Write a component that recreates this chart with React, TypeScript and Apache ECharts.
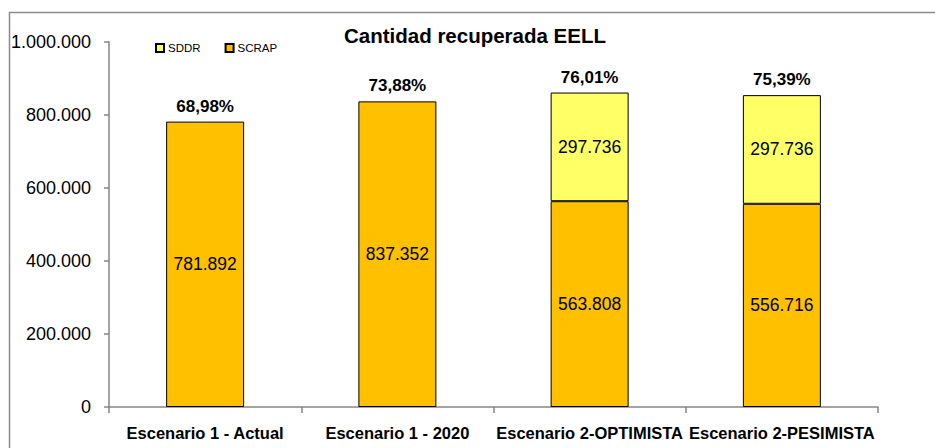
import React, { useEffect, useRef } from "react";
import * as echarts from "echarts";

const categories = ["Escenario 1 - Actual", "Escenario 1 - 2020", "Escenario 2-OPTIMISTA", "Escenario 2-PESIMISTA"];
const scrapValues = [781892, 837352, 563808, 556716];
const sddrValues: (number | null)[] = [null, null, 297736, 297736];
const pctLabels = ["68,98%", "73,88%", "76,01%", "75,39%"];
const yTicks = [0, 200000, 400000, 600000, 800000, 1000000];

const fmt = (v: number) => String(Math.round(v)).replace(/\B(?=(\d{3})+(?!\d))/g, ".");
const FONT = "'Liberation Sans', Arial, sans-serif";

export default function App() {
  const ref = useRef<HTMLDivElement>(null);
  useEffect(() => {
    if (!ref.current) return;
    const chart = echarts.init(ref.current, null, { renderer: "svg" });
    const totals = scrapValues.map((v, i) => v + (sddrValues[i] ?? 0));
    chart.setOption({
      animation: false,
      textStyle: { fontFamily: FONT },
      title: {
        text: "Cantidad recuperada EELL",
        left: 470,
        textAlign: "center",
        top: 20,
        textStyle: { fontFamily: FONT, fontSize: 20.5, fontWeight: "bold", color: "#000" },
      },
      legend: {
        data: ["SDDR", "SCRAP"],
        left: 150,
        top: 37,
        icon: "rect",
        itemWidth: 8,
        itemHeight: 8,
        itemGap: 24,
        textStyle: { fontFamily: FONT, fontSize: 11.5, color: "#000", padding: [0, 0, 0, -1] },
      },
      graphic: [
        {
          type: "rect",
          shape: { x: 9.5, y: 12.5, width: 1000, height: 1000 },
          style: { fill: "none", stroke: "#8c8c8c", lineWidth: 1.5 },
          silent: true,
        },
      ],
      grid: { left: 109, right: 57, top: 42, bottom: 41 },
      xAxis: {
        type: "category",
        data: categories,
        axisLine: { lineStyle: { color: "#868686", width: 1.5 } },
        axisTick: { show: true, length: 6, lineStyle: { color: "#868686", width: 1.5 } },
        axisLabel: { fontFamily: FONT, fontSize: 16.5, fontWeight: "bold", color: "#000", margin: 17, interval: 0 },
      },
      yAxis: {
        type: "value",
        min: 0,
        max: 1000000,
        interval: 200000,
        splitLine: { show: false },
        axisLine: { show: true, lineStyle: { color: "#868686", width: 1.5 } },
        axisTick: { show: true, length: 5, lineStyle: { color: "#868686", width: 1.5 } },
        axisLabel: {
          fontFamily: FONT,
          fontSize: 18,
          color: "#000",
          margin: 18,
          formatter: (v: number) => (yTicks.includes(v) ? fmt(v) : ""),
        },
      },
      series: [
        {
          name: "SCRAP",
          type: "bar",
          stack: "t",
          barWidth: 78,
          data: scrapValues,
          itemStyle: { color: "#FFC000", borderColor: "#000", borderWidth: 1 },
          label: {
            show: true,
            position: "inside",
            fontFamily: FONT,
            fontSize: 17.5,
            color: "#000",
            formatter: (p: any) => fmt(p.value),
          },
        },
        {
          name: "SDDR",
          type: "bar",
          stack: "t",
          barWidth: 78,
          data: sddrValues,
          itemStyle: { color: "#FFFF66", borderColor: "#000", borderWidth: 1 },
          label: {
            show: true,
            position: "inside",
            fontFamily: FONT,
            fontSize: 17.5,
            color: "#000",
            formatter: (p: any) => (p.value == null ? "" : fmt(p.value)),
          },
        },
        {
          name: "pct",
          type: "scatter",
          data: totals,
          symbolSize: 0,
          silent: true,
          itemStyle: { opacity: 1 },
          label: {
            show: true,
            position: "top",
            distance: 7,
            opacity: 1,
            fontFamily: FONT,
            fontSize: 17,
            fontWeight: "bold",
            color: "#000",
            formatter: (p: any) => pctLabels[p.dataIndex],
          },
        },
      ],
    });
    return () => chart.dispose();
  }, []);
  return <div ref={ref} style={{ position: "absolute", left: 0, top: 0, width: 935, height: 448 }} />;
}
